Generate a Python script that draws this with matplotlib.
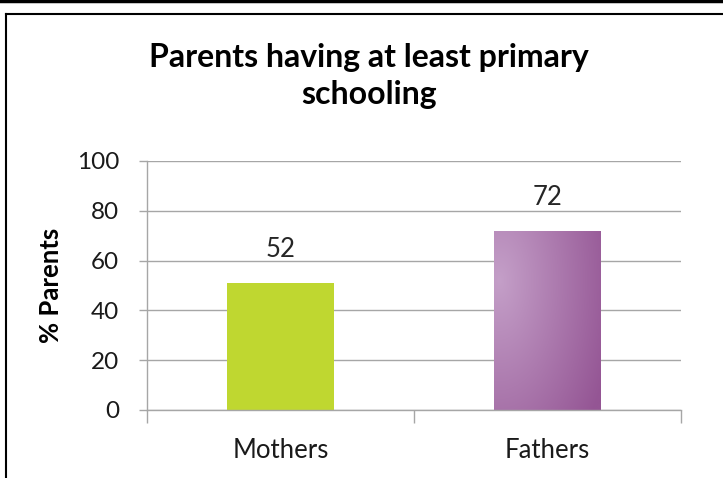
import numpy as np
import matplotlib.pyplot as plt
from matplotlib.lines import Line2D

plt.rcParams['font.family'] = ['Lato', 'DejaVu Sans']

categories = ["Mothers", "Fathers"]
values = [51, 72]
value_labels = ["52", "72"]
bar_colors = ["#bfd730", "#a772a9"]
yticks = [0, 20, 40, 60, 80, 100]

fig = plt.figure(figsize=(7.23, 4.78), dpi=100)
ax = fig.add_axes([147 / 723, 1 - 410 / 478, (681 - 147) / 723, (410 - 161) / 478])

x = np.arange(len(categories))
bars = ax.bar(x, values, width=0.4, color=bar_colors, zorder=2)

# radial shading on the Fathers bar
b = bars[1]
b.set_facecolor("none")
bx, by = b.get_x(), b.get_y()
bw, bh = b.get_width(), b.get_height()
gx, gy = np.meshgrid(np.linspace(0, 1, 200), np.linspace(0, 1, 200))
r = np.sqrt((gx - 0.05) ** 2 + ((gy - 0.28) * 0.9) ** 2)
r = np.clip(r / 1.1, 0, 1)
c0 = np.array([0xc4, 0x9f, 0xc8]) / 255
c1 = np.array([0x94, 0x55, 0x94]) / 255
img = c0[None, None, :] * (1 - r[..., None]) + c1[None, None, :] * r[..., None]
im = ax.imshow(img, extent=[bx, bx + bw, by, by + bh], origin="upper",
               aspect="auto", zorder=2, interpolation="bilinear")
im.set_clip_path(b)

for xi, v, lab in zip(x, values, value_labels):
    ax.annotate(lab, (xi, v), xytext=(0, 24), textcoords="offset points",
                ha="center", va="center", fontsize=18.5, color="#262626")

ax.set_xlim(-0.5, 1.5)
ax.set_ylim(0, 100)
ax.set_yticks(yticks)
ax.set_xticks(x)
ax.set_xticklabels(categories)
ax.set_xticks([-0.5, 0.5, 1.5], minor=True)
ax.tick_params(axis="x", which="major", length=0, pad=20, labelsize=18.5, labelcolor="#1a1a1a")
ax.tick_params(axis="x", which="minor", length=9, color="#a6a6a6", width=1)
ax.tick_params(axis="y", length=6, color="#a6a6a6", width=1, pad=14, labelsize=17.5, labelcolor="#1a1a1a")
ax.grid(axis="y", color="#a6a6a6", linewidth=1, zorder=0)
ax.set_axisbelow(True)
for s in ["top", "right"]:
    ax.spines[s].set_visible(False)
for s in ["left", "bottom"]:
    ax.spines[s].set_color("#a6a6a6")
    ax.spines[s].set_linewidth(1)

ax.set_ylabel("% Parents", fontsize=18.5, fontweight="bold", labelpad=10)

fig.text(369 / 723, 1 - 76 / 478, "Parents having at least primary\nschooling",
         ha="center", va="center", fontsize=23, fontweight="bold", linespacing=1.35)

# page frame
fig.add_artist(Line2D([0, 1], [1 - 1 / 478, 1 - 1 / 478], color="black", lw=2.5,
                      transform=fig.transFigure))
fig.add_artist(Line2D([6.5 / 723, 1], [1 - 13.5 / 478, 1 - 13.5 / 478], color="black", lw=1.5,
                      transform=fig.transFigure))
fig.add_artist(Line2D([6.5 / 723, 6.5 / 723], [0, 1 - 13.5 / 478], color="black", lw=1.5,
                      transform=fig.transFigure))

fig.savefig("out.png", dpi=100)
